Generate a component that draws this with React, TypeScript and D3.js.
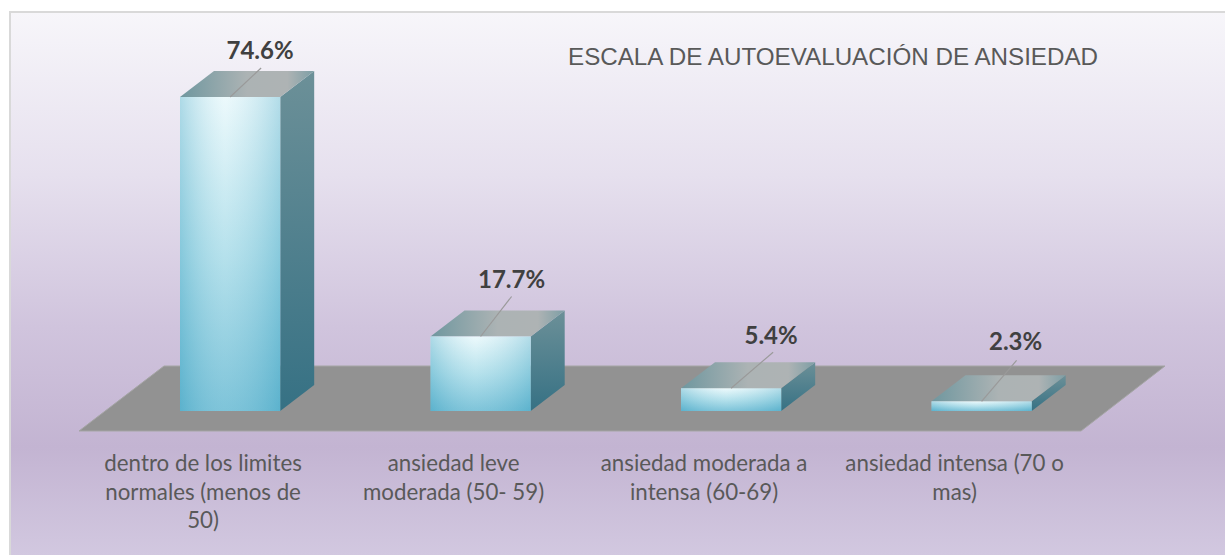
import React from "react";
import * as d3 from "d3";

const categories = ["dentro de los limites normales (menos de 50)", "ansiedad leve moderada (50- 59)", "ansiedad moderada a intensa (60-69)", "ansiedad intensa (70 o mas)"];
const values = [74.6, 17.7, 5.4, 2.3];
const valueLabels = ["74.6%", "17.7%", "5.4%", "2.3%"];
const categoryLines = [
  ["dentro de los limites", "normales (menos de", "50)"],
  ["ansiedad leve", "moderada (50- 59)"],
  ["ansiedad moderada a", "intensa (60-69)"],
  ["ansiedad intensa (70 o", "mas)"],
];
const title = "ESCALA DE AUTOEVALUACIÓN DE ANSIEDAD";
const leaderEnds = [[31, -29], [31, -40], [42, -36], [35, -41]];
const labelOffsets = [[30, -38], [31, -48], [40, -44], [34, -51]];

const W = 1225, H = 555;
const x = d3.scaleBand<string>().domain(categories).range([104.85, 1106.85]).paddingInner(0.6).paddingOuter(0.3);
const y = d3.scaleLinear().domain([0, 74.6]).range([411, 97]);
const dx = 34, dy = 26;
const floorPath = d3.line()([[79, 431], [1081, 431], [1165, 366], [164, 366]]) + "Z";

export default function App() {
  const bw = x.bandwidth();
  return (
    <svg width={W} height={H} style={{ position: "fixed", left: 0, top: 0 }}>
      <defs>
        <linearGradient id="bg" x1="0" y1="0" x2="0" y2="1">
          <stop offset="0" stopColor="#f7f6fa" />
          <stop offset="0.3" stopColor="#e6e0ee" />
          <stop offset="0.58" stopColor="#d0c4dd" />
          <stop offset="0.8" stopColor="#c3b4d2" />
          <stop offset="1" stopColor="#d2c8e0" />
        </linearGradient>
        <linearGradient id="front" x1="0" y1="0" x2="0" y2="1">
          <stop offset="0" stopColor="#e8f8fb" />
          <stop offset="0.5" stopColor="#a6dbe8" />
          <stop offset="1" stopColor="#62b7d1" />
        </linearGradient>
        <linearGradient id="frontH" x1="0" y1="0" x2="1" y2="0">
          <stop offset="0" stopColor="#4fa9c6" stopOpacity="0.38" />
          <stop offset="0.45" stopColor="#ffffff" stopOpacity="0.18" />
          <stop offset="1" stopColor="#4fa9c6" stopOpacity="0.35" />
        </linearGradient>
        <linearGradient id="side" x1="0" y1="0" x2="0" y2="1">
          <stop offset="0" stopColor="#6c9098" />
          <stop offset="1" stopColor="#367184" />
        </linearGradient>
        <linearGradient id="top" x1="0" y1="0" x2="1" y2="0">
          <stop offset="0" stopColor="#6f979f" />
          <stop offset="0.5" stopColor="#acb3b4" />
          <stop offset="0.8" stopColor="#aeb3b4" />
          <stop offset="1" stopColor="#7d9ea5" />
        </linearGradient>
      </defs>
      <rect x={10} y={12} width={W - 9} height={H - 11} fill="url(#bg)" stroke="#d9d9d9" strokeWidth={2} />
      <path d={floorPath} fill="#929292" stroke="#a5a5a5" strokeWidth={1} />
      <text x={568} y={65} fontFamily="'Liberation Sans'" fontSize={24.2} fill="#595959">{title}</text>
      {categories.map((c, i) => {
        const x0 = x(c)!;
        const yT = y(values[i]);
        const y0 = y(0);
        const x1 = x0 + bw;
        const side = d3.line()([[x1, yT], [x1 + dx, yT - dy], [x1 + dx, y0 - dy], [x1, y0]]) + "Z";
        const top = d3.line()([[x0, yT], [x0 + dx, yT - dy], [x1 + dx, yT - dy], [x1, yT]]) + "Z";
        const cx = x0 + bw / 2;
        return (
          <g key={c}>
            <path d={side} fill="url(#side)" />
            <path d={top} fill="url(#top)" />
            <rect x={x0} y={yT} width={bw} height={y0 - yT} fill="url(#front)" />
            <rect x={x0} y={yT} width={bw} height={y0 - yT} fill="url(#frontH)" />
            <line x1={cx} y1={yT} x2={cx + leaderEnds[i][0]} y2={yT + leaderEnds[i][1]} stroke="#9a9a9a" strokeWidth={1.2} />
            <text x={cx + labelOffsets[i][0]} y={yT + labelOffsets[i][1]} textAnchor="middle" fontFamily="Lato" fontWeight={700} fontSize={24} fill="#404040">{valueLabels[i]}</text>
            <text textAnchor="middle" fontFamily="Lato" fontSize={22.3} fill="#595959">
              {categoryLines[i].map((l, j) => (
                <tspan key={j} x={cx - 27} y={471 + j * 28.5}>{l}</tspan>
              ))}
            </text>
          </g>
        );
      })}
    </svg>
  );
}
